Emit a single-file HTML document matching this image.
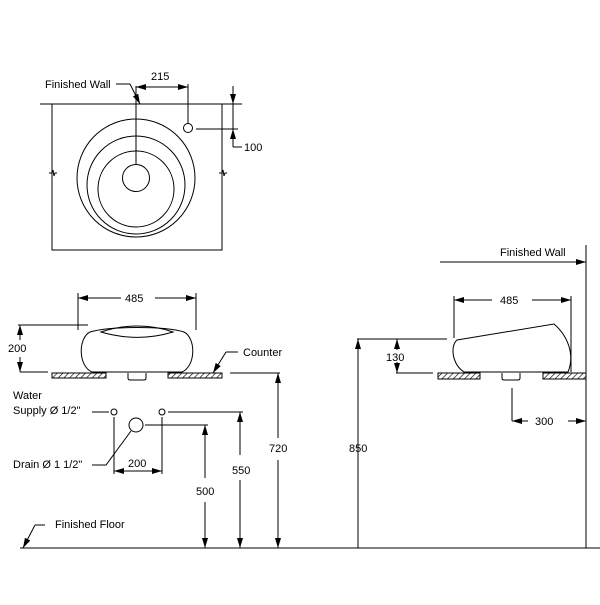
<!DOCTYPE html>
<html><head><style>
html,body{margin:0;padding:0;background:#fff;}
text{font-family:"Liberation Sans",sans-serif;font-size:11px;fill:#000;}
</style></head><body>
<svg width="600" height="600" viewBox="0 0 600 600" xmlns="http://www.w3.org/2000/svg">
<defs>
<marker id="a" viewBox="0 0 10 6" refX="10" refY="3" markerWidth="10" markerHeight="6" orient="auto-start-reverse" markerUnits="userSpaceOnUse"><path d="M0,0 L10,3 L0,6 z" fill="#000"/></marker>
<pattern id="h" width="4" height="4" patternUnits="userSpaceOnUse" patternTransform="rotate(45)"><line x1="0" y1="0" x2="0" y2="4" stroke="#000" stroke-width="1.3"/></pattern>
</defs>
<g stroke="#000" stroke-width="1" fill="none">
<line x1="40" y1="104" x2="242" y2="104"/>
<polyline points="52,104 52,250 222,250 222,104"/>
<circle cx="136" cy="178" r="59"/>
<circle cx="136" cy="185" r="49"/>
<circle cx="136" cy="189" r="38"/>
<circle cx="136" cy="178" r="13.5"/>
<line x1="136" y1="86" x2="136" y2="165"/>
<line x1="116" y1="84" x2="130" y2="84"/>
<line x1="130" y1="84" x2="140" y2="104" marker-end="url(#a)"/>
<line x1="136" y1="87" x2="188" y2="87" marker-start="url(#a)" marker-end="url(#a)"/>
<line x1="188" y1="84" x2="188" y2="123"/>
<circle cx="188" cy="128" r="4.5"/>
<line x1="196" y1="129" x2="238" y2="129"/>
<line x1="233" y1="86" x2="233" y2="104" marker-end="url(#a)"/>
<line x1="233" y1="104" x2="233" y2="129"/>
<line x1="233" y1="147" x2="233" y2="129" marker-end="url(#a)"/>
<line x1="233" y1="147" x2="242" y2="147"/>
<path d="M49,173 h3 l1,-3 l1,6 l1,-3 h2"/>
<path d="M219,173 h3 l1,-3 l1,6 l1,-3 h2"/>
<line x1="78" y1="293" x2="78" y2="330"/>
<line x1="196" y1="293" x2="196" y2="330"/>
<line x1="78" y1="298" x2="121" y2="298" marker-start="url(#a)"/>
<line x1="155" y1="298" x2="196" y2="298" marker-end="url(#a)"/>
<path d="M90,332 C78,338 78,366 92,372 L182,372 C196,366 196,338 184,332 C165,326 110,326 90,332 Z"/>
<path d="M101,332 C125,324 150,324 173,332 C150,339 125,339 101,332 Z"/>
<line x1="18" y1="325" x2="88" y2="325"/>
<line x1="20" y1="372" x2="48" y2="372"/>
<line x1="20" y1="340" x2="20" y2="325" marker-end="url(#a)"/>
<line x1="20" y1="357" x2="20" y2="372" marker-end="url(#a)"/>
<rect x="52" y="373" width="54" height="5" fill="url(#h)"/>
<rect x="168" y="373" width="54" height="5" fill="url(#h)"/>
<path d="M128,373 v5 q0,2 2,2 h14 q2,0 2,-2 v-5"/>
<line x1="230" y1="373" x2="280" y2="373"/>
<line x1="226" y1="352" x2="213" y2="373" marker-end="url(#a)"/>
<line x1="226" y1="352" x2="238" y2="352"/>
<line x1="92" y1="412" x2="109" y2="412"/>
<circle cx="114" cy="412" r="3"/>
<circle cx="162" cy="412" r="3"/>
<circle cx="136" cy="425" r="7"/>
<polyline points="92,465 106,465 131,431"/>
<line x1="114" y1="417" x2="114" y2="474"/>
<line x1="162" y1="417" x2="162" y2="474"/>
<line x1="114" y1="471" x2="162" y2="471" marker-start="url(#a)" marker-end="url(#a)"/>
<line x1="168" y1="412" x2="243" y2="412"/>
<line x1="240" y1="412" x2="240" y2="455" marker-start="url(#a)"/>
<line x1="240" y1="480" x2="240" y2="548" marker-end="url(#a)"/>
<line x1="145" y1="425" x2="208" y2="425"/>
<line x1="205" y1="425" x2="205" y2="478" marker-start="url(#a)"/>
<line x1="205" y1="502" x2="205" y2="548" marker-end="url(#a)"/>
<line x1="278" y1="373" x2="278" y2="438" marker-start="url(#a)"/>
<line x1="278" y1="460" x2="278" y2="548" marker-end="url(#a)"/>
<line x1="20" y1="548" x2="600" y2="548"/>
<line x1="35" y1="525" x2="23" y2="548" marker-end="url(#a)"/>
<line x1="35" y1="525" x2="45" y2="525"/>
<line x1="586" y1="245" x2="586" y2="548"/>
<line x1="440" y1="262" x2="586" y2="262" marker-end="url(#a)"/>
<line x1="454" y1="296" x2="454" y2="338"/>
<line x1="571" y1="296" x2="571" y2="372"/>
<line x1="454" y1="300" x2="492" y2="300" marker-start="url(#a)"/>
<line x1="532" y1="300" x2="571" y2="300" marker-end="url(#a)"/>
<path d="M457,340 L554,324 C568,336 575,355 568,372 L464,372 C452,364 450,346 457,340 Z"/>
<line x1="357" y1="339" x2="447" y2="339"/>
<line x1="396" y1="373" x2="433" y2="373"/>
<line x1="397" y1="350" x2="397" y2="339" marker-end="url(#a)"/>
<line x1="397" y1="362" x2="397" y2="373" marker-end="url(#a)"/>
<line x1="358" y1="548" x2="358" y2="339" marker-end="url(#a)"/>
<rect x="438" y="373" width="42" height="6" fill="url(#h)"/>
<rect x="543" y="373" width="43" height="6" fill="url(#h)"/>
<path d="M502,373 v5 q0,2 2,2 h14 q2,0 2,-2 v-5"/>
<line x1="512" y1="388" x2="512" y2="421"/>
<line x1="512" y1="421" x2="528" y2="421" marker-start="url(#a)"/>
<line x1="568" y1="421" x2="586" y2="421" marker-end="url(#a)"/>
</g>
<text x="45" y="88">Finished Wall</text>
<text x="151" y="80">215</text>
<text x="244" y="151">100</text>
<text x="125" y="302">485</text>
<text x="8" y="352">200</text>
<text x="243" y="356">Counter</text>
<text x="13" y="399">Water</text>
<text x="13" y="414">Supply Ø 1/2"</text>
<text x="13" y="468">Drain Ø 1 1/2"</text>
<text x="128" y="467">200</text>
<text x="232" y="474">550</text>
<text x="196" y="495">500</text>
<text x="269" y="452">720</text>
<text x="55" y="528">Finished Floor</text>
<text x="500" y="256">Finished Wall</text>
<text x="500" y="304">485</text>
<text x="386" y="361">130</text>
<text x="349" y="452">850</text>
<text x="535" y="425">300</text>
</svg>
</body></html>
